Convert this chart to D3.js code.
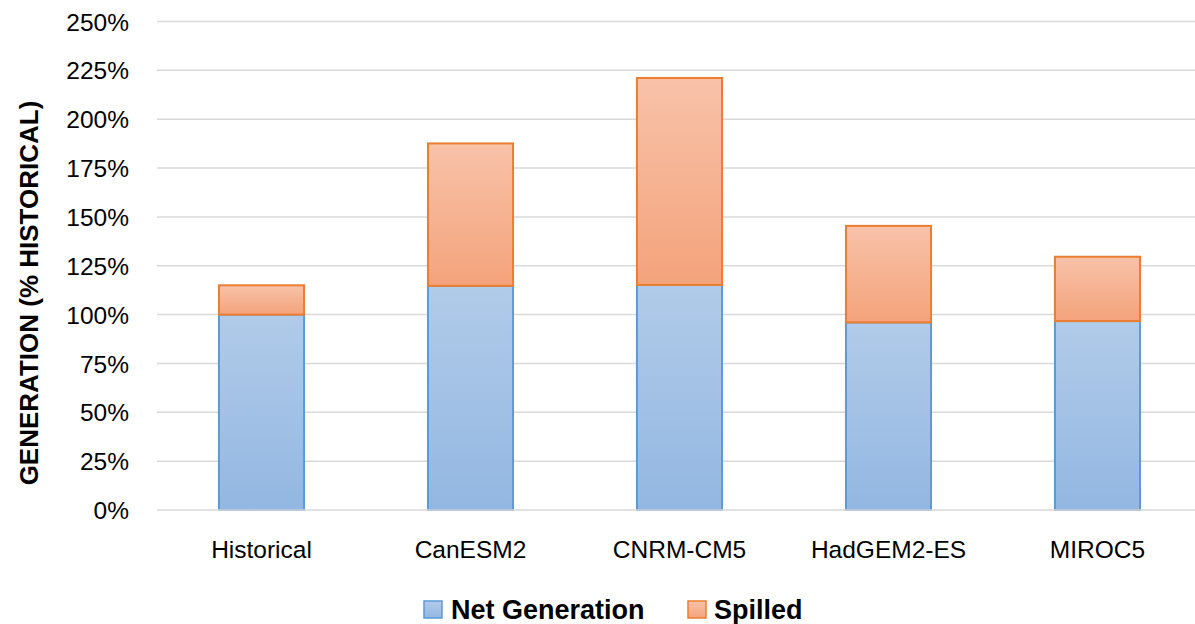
<!DOCTYPE html>
<html>
<head>
<meta charset="utf-8">
<script src="https://cdn.jsdelivr.net/npm/d3@7"></script>
<style>
  html, body { margin: 0; padding: 0; background: #fff; }
  svg { display: block; font-family: "Liberation Sans", Arial, sans-serif; }
</style>
</head>
<body>
<svg id="chart" width="1195" height="624"></svg>
<script>
// Generation per climate model, as percent of historical
const categories = ["Historical", "CanESM2", "CNRM-CM5", "HadGEM2-ES", "MIROC5"];
const netGeneration = [100, 114.7, 115.2, 96.0, 96.7];
const spilled = [15, 72.9, 105.9, 49.4, 32.9];
const seriesNames = ["Net Generation", "Spilled"];
const yTicks = [0, 25, 50, 75, 100, 125, 150, 175, 200, 225, 250];

const svg = d3.select("#chart");
const W = 1195, H = 624;
const plot = { left: 157, right: 1202, top: 21.5, bottom: 510 };

const x = d3.scaleBand()
  .domain(categories)
  .range([plot.left, plot.right])
  .paddingInner(0.593)
  .paddingOuter(0.2965);

const y = d3.scaleLinear()
  .domain([0, 250])
  .range([plot.bottom, plot.top]);

// gradients
const defs = svg.append("defs");
function grad(id, top, bottom) {
  const g = defs.append("linearGradient").attr("id", id)
    .attr("x1", 0).attr("y1", 0).attr("x2", 0).attr("y2", 1);
  g.append("stop").attr("offset", "0%").attr("stop-color", top);
  g.append("stop").attr("offset", "100%").attr("stop-color", bottom);
}
grad("gNet", "#b1cbe9", "#93b7e2");
grad("gSpill", "#f8c2a9", "#f4a37b");

const fills = ["url(#gNet)", "url(#gSpill)"];
const strokes = ["#5b9bd5", "#ed7d31"];

// gridlines
svg.append("g").selectAll("line")
  .data(yTicks.filter(d => d > 0))
  .join("line")
  .attr("x1", plot.left).attr("x2", W)
  .attr("y1", d => y(d)).attr("y2", d => y(d))
  .attr("stroke", "#d9d9d9").attr("stroke-width", 1.5);

// y axis tick labels
const yAxis = d3.axisLeft(y).tickValues(yTicks).tickFormat(d => d + "%").tickSize(0).tickPadding(0);
const yg = svg.append("g").attr("transform", "translate(129,0)").call(yAxis);
yg.select(".domain").remove();
yg.selectAll("text")
  .attr("font-family", "Liberation Sans, Arial, sans-serif")
  .attr("font-size", 24.5)
  .attr("fill", "#000")
  .attr("dy", "0.35em");

// stacked bars
const stackData = categories.map((c, i) => ({ cat: c, net: netGeneration[i], spill: spilled[i] }));
const stack = d3.stack().keys(["net", "spill"])(stackData);

stack.forEach((layer, li) => {
  svg.append("g").selectAll("rect")
    .data(layer)
    .join("rect")
    .attr("x", d => x(d.data.cat))
    .attr("width", x.bandwidth())
    .attr("y", d => y(d[1]))
    .attr("height", d => y(d[0]) - y(d[1]))
    .attr("fill", fills[li])
    .attr("stroke", strokes[li])
    .attr("stroke-width", 2);
});

// baseline
svg.append("line")
  .attr("x1", plot.left).attr("x2", W)
  .attr("y1", y(0)).attr("y2", y(0))
  .attr("stroke", "#d9d9d9").attr("stroke-width", 1.5);

// x axis labels
const xAxis = d3.axisBottom(x).tickSize(0).tickPadding(0);
const xg = svg.append("g").attr("transform", `translate(0,${y(0)})`).call(xAxis);
xg.select(".domain").remove();
xg.selectAll("text")
  .attr("font-family", "Liberation Sans, Arial, sans-serif")
  .attr("font-size", 24.5)
  .attr("fill", "#000")
  .attr("dy", 0)
  .attr("y", 48);

// y axis title
svg.append("text")
  .attr("transform", "translate(38,293) rotate(-90)")
  .attr("text-anchor", "middle")
  .attr("font-size", 26)
  .attr("font-weight", "bold")
  .attr("fill", "#000")
  .text("GENERATION (% HISTORICAL)");

// legend
const legendItems = [
  { name: seriesNames[0], sx: 424, tx: 451 },
  { name: seriesNames[1], sx: 688, tx: 714 }
];
const lg = svg.append("g");
legendItems.forEach((d, i) => {
  lg.append("rect")
    .attr("x", d.sx).attr("y", 601)
    .attr("width", 18).attr("height", 17)
    .attr("fill", fills[i]).attr("stroke", strokes[i]).attr("stroke-width", 1.5);
  lg.append("text")
    .attr("x", d.tx).attr("y", 619)
    .attr("font-size", 27)
    .attr("font-weight", "bold")
    .attr("fill", "#000")
    .text(d.name);
});
</script>
</body>
</html>
